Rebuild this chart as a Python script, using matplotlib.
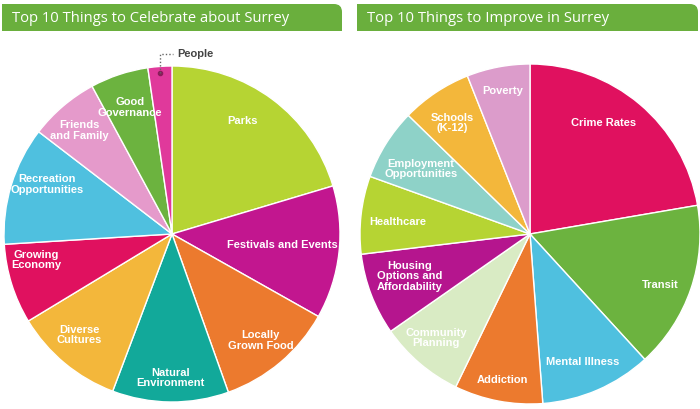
import numpy as np
import matplotlib.pyplot as plt
from matplotlib.path import Path
from matplotlib.patches import PathPatch

# left pie: things to celebrate (share of the circle, %)
celebrate_labels = ["Parks", "Festivals and Events", "Locally\nGrown Food", "Natural\nEnvironment",
                    "Diverse\nCultures", "Growing\nEconomy", "Recreation\nOpportunities",
                    "Friends\nand Family", "Good\nGovernance", "People"]
celebrate_vals = [20.4, 12.8, 11.4, 11.2, 10.6, 7.7, 11.4, 6.7, 5.6, 2.3]
celebrate_colors = ["#b6d433", "#c2168f", "#ec7a2e", "#12a99a", "#f3b73b",
                    "#e0115f", "#4fc0df", "#e59acb", "#6cb33f", "#e0399b"]

# right pie: things to improve
improve_labels = ["Crime Rates", "Transit", "Mental Illness", "Addiction", "Community\nPlanning",
                  "Housing\nOptions and\nAffordability", "Healthcare", "Employment\nOpportunities",
                  "Schools\n(K-12)", "Poverty"]
improve_vals = [22.3, 15.9, 10.6, 8.4, 8.1, 7.8, 7.4, 6.8, 6.7, 6.0]
improve_colors = ["#e0115f", "#6cb33f", "#4fc0df", "#ec7a2e", "#d9ebc4",
                  "#b5158e", "#b6d433", "#8ed2c8", "#f3b73b", "#dc9ccb"]

# label placement: (radius fraction, angle shift in degrees)
celebrate_pos = [(0.80, 5), (0.66, 1), (0.82, 0), (0.85, 0), (0.81, -3),
                 (0.82, -7), (0.80, -5), (0.83, 1), (0.80, 0), None]
improve_pos = [(0.79, 7), (0.82, -2), (0.81, -1), (0.87, 0), (0.82, -2),
               (0.75, -2), (0.78, 1), (0.75, 1), (0.80, 1), (0.86, 0)]

LABEL_FONT = dict(family="Liberation Sans", stretch="condensed", weight="bold")

fig = plt.figure(figsize=(7, 4.1), dpi=100)
ax = fig.add_axes([0, 0, 1, 1])


def title_bar(x0, x1, y0, y1, r, text, size):
    verts = [(x0, y0), (x1, y0), (x1, y1 - r), (x1, y1), (x1 - r, y1), (x0, y1), (x0, y0)]
    codes = [Path.MOVETO, Path.LINETO, Path.LINETO, Path.CURVE3, Path.CURVE3,
             Path.LINETO, Path.CLOSEPOLY]
    ax.add_patch(PathPatch(Path(verts, codes), facecolor="#6aaf3d", edgecolor="none"))
    ax.text(x0 + 10, (y0 + y1) / 2, text, color="white", fontsize=size,
            family="Open Sans", va="center", ha="left")


def draw_pie(vals, colors, labels, pos, center, radius):
    wedges, _ = ax.pie(vals, colors=colors, startangle=90, counterclock=False,
                       center=center, radius=radius,
                       wedgeprops=dict(edgecolor="white", linewidth=1))
    for w, lab, p in zip(wedges, labels, pos):
        if p is None:
            continue
        frac, shift = p
        ang = np.deg2rad((w.theta1 + w.theta2) / 2 + shift)
        x = center[0] + frac * radius * np.cos(ang)
        y = center[1] + frac * radius * np.sin(ang)
        ax.text(x, y, lab, color="white", fontsize=8, ha="center", va="center",
                linespacing=1.05, **LABEL_FONT)
    return wedges


title_bar(2, 342, 378, 405, 8, "Top 10 Things to Celebrate about Surrey", 10.6)
title_bar(357, 698, 378, 405, 8, "Top 10 Things to Improve in Surrey", 10.7)

cw = draw_pie(celebrate_vals, celebrate_colors, celebrate_labels, celebrate_pos, (172, 175), 168)
draw_pie(improve_vals, improve_colors, improve_labels, improve_pos, (530, 175), 170)

# leader for the thin "People" slice
w = cw[-1]
a = np.deg2rad((w.theta1 + w.theta2) / 2)
px = 172 + 0.96 * 168 * np.cos(a)
py = 175 + 0.96 * 168 * np.sin(a)
ax.plot([px], [py], "o", color="#8a1d5a", ms=3)
ax.plot([px, px, px + 13], [py, 355, 355], ls=(0, (1, 1.5)), color="#666666", lw=1)
ax.text(px + 17, 356, "People", color="#444444", fontsize=8, ha="left", va="center",
        **LABEL_FONT)

ax.set_xlim(0, 700)
ax.set_ylim(0, 410)
ax.set_aspect("equal")
ax.axis("off")

fig.savefig("out.png", dpi=100)
